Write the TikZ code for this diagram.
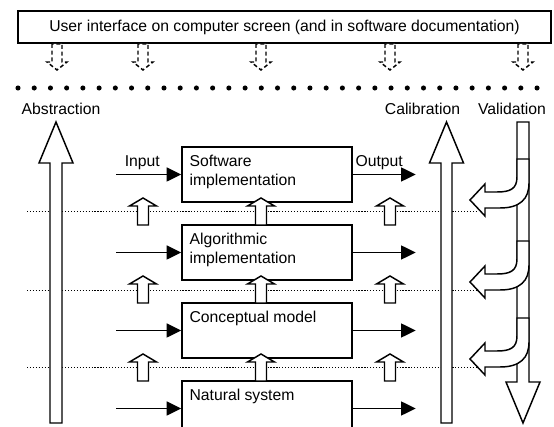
\documentclass[tikz,border=0pt]{standalone}
\usepackage{fontspec}
\setmainfont{Liberation Sans}
\usetikzlibrary{arrows.meta, positioning, calc}

\tikzset{
  stage/.style={draw, line width=1.1pt, fill=white, inner sep=0pt, minimum width=127.5pt, minimum height=41.25pt},
  stagetext/.style={anchor=north west, align=left, inner xsep=6pt, inner ysep=6.5pt},
  hollow/.style={draw, line width=1.1pt, fill=white},
  flow/.style={line width=1.1pt, -{Triangle[length=11pt, width=10.5pt]}},
  sep/.style={line width=0.75pt, dash pattern=on 0.9pt off 1.3pt}
}

\begin{document}
\begin{tikzpicture}[x=0.75pt, y=-0.75pt, font=\fontsize{11.8}{14.2}\selectfont]
  \useasboundingbox (0,0) rectangle (554,427);
  \clip (0,0) rectangle (554,427);

  \node[draw, line width=1.1pt, inner sep=0pt, minimum width=399.75pt, minimum height=24pt] (ui) at (284.5,27) {User interface on computer screen (and in software documentation)};
  \foreach \cx in {57,143,261,390,523}
    \draw[hollow, dash pattern=on 3pt off 2pt] ({\cx-5},44) -- ({\cx-5},62) -- ({\cx-10},62) -- (\cx,70) -- ({\cx+10},62) -- ({\cx+5},62) -- ({\cx+5},44) -- cycle;
  \foreach \i in {0,...,32}
    \fill ({18+16.22*\i},88) circle (1.9pt);

  \node (abs) at (61,109) {Abstraction};
  \node (cal) at (422.5,109) {Calibration};
  \node (val) at (512,109) {Validation};

  \foreach \ys in {212,291,368}
    \draw[sep] (27,\ys) -- (477,\ys);

  \node[stage] (sw) at (267,174.5) {};
  \node[stage] (alg) at (267,252.5) {};
  \node[stage] (con) at (267,330.5) {};
  \node[stage] (nat) at (267,408.5) {};
  \node[stagetext] at (sw.north west) {Software\\implementation};
  \node[stagetext] at (alg.north west) {Algorithmic\\implementation};
  \node[stagetext] at (con.north west) {Conceptual model};
  \node[stagetext] at (nat.north west) {Natural system};

  \foreach \b in {sw,alg,con,nat} {
    \coordinate (\b-in) at ($(\b.west)+(-65,0)$);
    \coordinate (\b-out) at ($(\b.east)+(63,0)$);
  }
  \draw[flow] (sw-in) -- node[above, pos=0.4] {Input} (sw.west);
  \draw[flow] (sw.east) -- node[above, pos=0.42] {Output} (sw-out);
  \foreach \b in {alg,con,nat} {
    \draw[flow] (\b-in) -- (\b.west);
    \draw[flow] (\b.east) -- (\b-out);
  }

  \foreach \yb in {225,303,381}
    \foreach \cx in {143,261,390}
      \draw[hollow] ({\cx-5.5},\yb) -- ({\cx-5.5},\yb-19) -- ({\cx-13.5},\yb-19) -- (\cx,\yb-27) -- ({\cx+13.5},\yb-19) -- ({\cx+5.5},\yb-19) -- ({\cx+5.5},\yb) -- cycle;

  \draw[hollow] (50,423) -- (50,163) -- (39,163) -- (56,122) -- (73,163) -- (62,163) -- (62,423) -- cycle;
  \draw[hollow] (441,423) -- (441,163) -- (429.5,163) -- (446.5,122) -- (463.5,163) -- (452,163) -- (452,423) -- cycle;

  \draw[hollow] (517,122) -- (529,122) -- (529,382) -- (540,382) -- (523,423) -- (506,382) -- (517,382) -- cycle;
  \foreach \yt in {159,241,318}
    \draw[hollow] (517,\yt) -- (517,\yt+18) .. controls (517,\yt+30) and (510,\yt+33) .. (497,\yt+33) -- (485,\yt+33) -- (485,\yt+25) -- (470,\yt+41) -- (485,\yt+57) -- (485,\yt+49) -- (500,\yt+49) .. controls (520,\yt+49) and (529,\yt+40) .. (529,\yt+24) -- (529,\yt) -- cycle;
\end{tikzpicture}
\end{document}
